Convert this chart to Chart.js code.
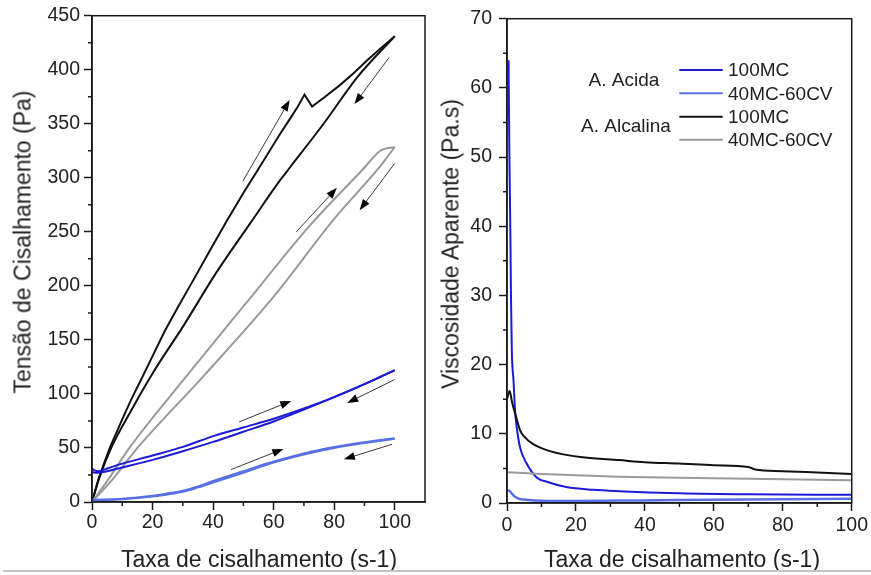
<!DOCTYPE html>
<html>
<head>
<meta charset="utf-8">
<script src="https://cdn.jsdelivr.net/npm/chart.js@4.4.1/dist/chart.umd.min.js"></script>
<style>
  html, body { margin: 0; padding: 0; background: #fff; }
  #wrap { position: relative; width: 871px; height: 575px; overflow: hidden; background: #fff; font-family: 'Liberation Sans', Arial, sans-serif; color: #222; }
  canvas { position: absolute; top: 0; }
  #c1 { left: 0; }
  #c2 { left: 435px; }
  .t { position: absolute; white-space: nowrap; font-size: 23px; line-height: 1; color: #222; }
  .ty { transform: translate(-50%, -50%) rotate(-90deg); }
  .tx { transform: translate(-50%, -50%); }
  #baseline { position: absolute; left: 3px; right: 0; top: 570px; height: 2px; background: #c4c4c4; }
</style>
</head>
<body>
<div id="wrap">
  <canvas id="c1" width="435" height="575"></canvas>
  <canvas id="c2" width="436" height="575"></canvas>
  <div class="t ty" style="left:23px; top:242px;">Tensão de Cisalhamento (Pa)</div>
  <div class="t tx" style="left:259px; top:559px;">Taxa de cisalhamento (s-1)</div>
  <div class="t ty" style="left:451px; top:244px;">Viscosidade Aparente (Pa.s)</div>
  <div class="t tx" style="left:682px; top:559px;">Taxa de cisalhamento (s-1)</div>
  <div id="baseline"></div>
</div>
<script>
// ---------- Left chart: shear stress (Pa) vs shear rate (s-1) ----------
const alk100Up   = [[0,0],[1,10],[2,20],[4,36],[6,51],[8.5,67],[11,83],[13.5,98],[16,112],[20,135],[24,158],[28.5,181],[33,203],[39,233],[44.5,260],[50,286],[54.5,306],[58.9,326],[62,340],[65.5,355],[68,366],[70.2,377],[72.7,366],[77,375],[82,386],[86.5,397],[91,409],[95.5,420],[100,431]];
const alk100Down = [[0,0],[2.5,23],[6.5,51],[13,85],[20,119],[30.2,163],[41,212],[52.3,258],[62.2,298],[65.5,310],[76.5,350],[87.6,393],[100,431]];
const alk4060Up   = [[0,0],[5.4,21],[12.6,51],[30.2,113],[50.6,183],[72,256],[89.2,307],[95.3,325],[100,328.5]];
const alk4060Down = [[0,0],[6.5,20],[15.3,51],[37,117],[60,190],[80,262],[95.3,311],[100,328.5]];
const acid100Up   = [[0,31],[1,29],[2,28.5],[5,31],[10,35.5],[20,43],[30,51],[40,61],[50,69],[60,77],[70,86.5],[80,97],[90,109],[100,122]];
const acid100Down = [[0,28],[1,27],[2,27],[5,28.5],[10,32],[20,39],[30,47],[40,55.6],[50,65],[60,74.5],[70,85.5],[80,97],[90,109],[100,122]];
const acid4060Up   = [[0,1.5],[10,2.5],[20,5],[25,7],[30,9.5],[35,13.5],[40,18],[50,27],[60,36.5],[70,44],[80,50],[90,54.5],[100,58.5]];
const acid4060Down = [[0,2],[10,3],[20,5.8],[25,8],[30,10.5],[35,14.5],[40,19.5],[50,28.5],[60,37.5],[70,45],[80,50.8],[90,55.3],[100,59]];
// direction arrows [xStart, yStart, xEnd, yEnd] (head at end)
const stressArrows = [
  [49.8,296.8,65.3,371.9],[98.2,411.5,86.7,368.2],
  [67.5,250,80.9,290.7],[100,313.3,88.4,270],
  [48.6,74.1,65.8,93.5],[100,113.3,84.3,91.7],
  [45.9,30,63.2,49.1],[99.1,53.4,83.2,39.5]
];
const leftXLabels = [0,20,40,60,80,100];
const leftXMinor = [10,30,50,70,90];
const leftYLabels = [0,50,100,150,200,250,300,350,400,450];
const leftYMinor = [25,75,125,175,225,275,325,375,425];

// ---------- Right chart: apparent viscosity (Pa.s) vs shear rate (s-1) ----------
const acid100Visc  = [[0.45,64],[0.7,50],[1,38],[1.15,30],[1.4,22],[1.9,17.6],[2.4,12.9],[3,10.3],[3.8,8],[5.7,5.7],[8.6,3.7],[12,3],[17.2,2.3],[25,1.9],[32.5,1.7],[50,1.4],[70,1.25],[100,1.2]];
const acid4060Visc = [[0,1.8],[0.5,1.8],[1,1.6],[1.7,1.2],[2.4,0.86],[3.5,0.6],[4.8,0.49],[8,0.35],[12.4,0.29],[20,0.3],[32.5,0.35],[50,0.42],[70,0.52],[100,0.62]];
const alk100Visc   = [[0,15],[0.75,16.2],[1.5,14.5],[2.4,12.9],[3.8,10.5],[5,9.6],[7.6,8.5],[12.4,7.5],[22,6.6],[32.5,6.2],[40,5.9],[50,5.7],[60,5.45],[70,5.2],[72,4.85],[80,4.6],[90,4.4],[100,4.2]];
const alk4060Visc  = [[0,4.45],[10,4.2],[20,4.0],[32.5,3.8],[50,3.65],[70,3.5],[100,3.3]];
const rightXLabels = [0,20,40,60,80,100];
const rightXMinor = [10,30,50,70,90];
const rightYLabels = [0,10,20,30,40,50,60,70];
const rightYMinor = [5,15,25,35,45,55,65];

const legendGroups = ['A. Acida', 'A. Alcalina'];
const legendLabels = ['100MC', '40MC-60CV', '100MC', '40MC-60CV'];

// ---------- styles ----------
const C_BLUE = '#1c1cd8';
const C_LBLUE = '#5870e4';
const C_BLACK = '#111111';
const C_GRAY = '#9a9a9a';
const legendColors = [C_BLUE, C_LBLUE, C_BLACK, C_GRAY];
const FONT = "'Liberation Sans', Arial, sans-serif";
const AXIS = '#1a1a1a';

const pts = a => a.map(p => ({x: p[0], y: p[1]}));
function ds(data, color, w, sharp) {
  const d = { data: pts(data), borderColor: color, backgroundColor: color, borderWidth: w || 2,
           pointRadius: 0, showLine: true, fill: false, tension: 0 };
  if (!sharp) d.cubicInterpolationMode = 'monotone';
  return d;
}

function axisCommon(extra) {
  return Object.assign({
    type: 'linear',
    grid: { display: true, drawOnChartArea: false, drawTicks: true, tickLength: 8, tickColor: AXIS, tickWidth: 1.5 },
    border: { display: true, color: AXIS, width: 1.5 },
  }, extra);
}

const framePlugin = {
  id: 'frame',
  afterDraw(chart, args, opts) {
    const ctx = chart.ctx, a = chart.chartArea;
    const xs = chart.scales.x, ys = chart.scales.y;
    ctx.save();
    // minor ticks
    ctx.strokeStyle = AXIS; ctx.lineWidth = 1.5;
    ctx.beginPath();
    (opts.xMinor || []).forEach(v => { const px = xs.getPixelForValue(v); ctx.moveTo(px, a.bottom); ctx.lineTo(px, a.bottom + 4); });
    (opts.yMinor || []).forEach(v => { const py = ys.getPixelForValue(v); ctx.moveTo(a.left, py); ctx.lineTo(a.left - 4, py); });
    ctx.stroke();
    // frame
    ctx.lineWidth = 1.5;
    ctx.strokeRect(a.left, a.top, a.right - a.left, a.bottom - a.top);
    // arrows
    (opts.arrows || []).forEach(ar => {
      const x1 = xs.getPixelForValue(ar[0]), y1 = ys.getPixelForValue(ar[1]);
      const x2 = xs.getPixelForValue(ar[2]), y2 = ys.getPixelForValue(ar[3]);
      const ang = Math.atan2(y2 - y1, x2 - x1);
      const L = 11, W = 4;
      ctx.strokeStyle = '#3a3a3a'; ctx.lineWidth = 1;
      ctx.beginPath(); ctx.moveTo(x1, y1); ctx.lineTo(x2 - Math.cos(ang) * L * 0.6, y2 - Math.sin(ang) * L * 0.6); ctx.stroke();
      ctx.fillStyle = '#000';
      ctx.beginPath();
      ctx.moveTo(x2, y2);
      ctx.lineTo(x2 - Math.cos(ang) * L - Math.sin(ang) * W, y2 - Math.sin(ang) * L + Math.cos(ang) * W);
      ctx.lineTo(x2 - Math.cos(ang) * L + Math.sin(ang) * W, y2 - Math.sin(ang) * L - Math.cos(ang) * W);
      ctx.closePath(); ctx.fill();
    });
    // legend
    if (opts.legend) {
      ctx.font = '19px ' + FONT;
      ctx.textBaseline = 'middle';
      const rows = [70, 93.3, 116.7, 139.8];
      legendLabels.forEach((lab, i) => {
        ctx.strokeStyle = legendColors[i]; ctx.lineWidth = 2;
        ctx.beginPath(); ctx.moveTo(244.3, rows[i]); ctx.lineTo(287.7, rows[i]); ctx.stroke();
        ctx.fillStyle = '#222'; ctx.textAlign = 'left';
        ctx.fillText(lab, 293, rows[i] + 1);
      });
      ctx.textAlign = 'center';
      ctx.fillText(legendGroups[0], 189, 80.5);
      ctx.fillText(legendGroups[1], 191, 127);
    }
    ctx.restore();
  }
};

function keepOnly(list) {
  return scale => { scale.ticks = list.map(v => ({ value: v })); };
}

new Chart(document.getElementById('c1'), {
  type: 'scatter',
  data: { datasets: [
    ds(acid4060Up, C_LBLUE, 2), ds(acid4060Down, C_LBLUE, 2),
    ds(acid100Up, C_BLUE, 2), ds(acid100Down, C_BLUE, 2),
    ds(alk4060Up, C_GRAY, 2), ds(alk4060Down, C_GRAY, 2),
    ds(alk100Up, C_BLACK, 2, true), ds(alk100Down, C_BLACK, 2)
  ]},
  options: {
    responsive: false, animation: false, maintainAspectRatio: false,
    layout: { padding: { top: 15, right: 10, left: 0, bottom: 0 } },
    plugins: { legend: { display: false }, tooltip: { enabled: false },
      frame: { xMinor: leftXMinor, yMinor: leftYMinor, arrows: stressArrows } },
    scales: {
      x: axisCommon({ min: 0, max: 110, afterBuildTicks: keepOnly(leftXLabels),
        afterFit: s => { s.height = 73; },
        ticks: { color: '#222', font: { family: FONT, size: 19.5 }, padding: 1, maxRotation: 0 } }),
      y: axisCommon({ min: 0, max: 450, afterBuildTicks: keepOnly(leftYLabels),
        afterFit: s => { s.width = 92; },
        ticks: { color: '#222', font: { family: FONT, size: 19.5 }, padding: 4 } })
    }
  },
  plugins: [framePlugin]
});

new Chart(document.getElementById('c2'), {
  type: 'scatter',
  data: { datasets: [
    ds(alk4060Visc, C_GRAY, 2), ds(alk100Visc, C_BLACK, 2),
    ds(acid4060Visc, C_LBLUE, 2.5), ds(acid100Visc, C_BLUE, 2)
  ]},
  options: {
    responsive: false, animation: false, maintainAspectRatio: false,
    layout: { padding: { top: 16, right: 15, left: 0, bottom: 0 } },
    plugins: { legend: { display: false }, tooltip: { enabled: false },
      frame: { xMinor: rightXMinor, yMinor: rightYMinor, legend: true } },
    scales: {
      x: axisCommon({ min: 0, max: 100, afterBuildTicks: keepOnly(rightXLabels),
        afterFit: s => { s.height = 72; },
        ticks: { color: '#222', font: { family: FONT, size: 19.5 }, padding: 3, maxRotation: 0 } }),
      y: axisCommon({ min: 0, max: 70, afterBuildTicks: keepOnly(rightYLabels),
        afterFit: s => { s.width = 72; },
        ticks: { color: '#222', font: { family: FONT, size: 19.5 }, padding: 7 } })
    }
  },
  plugins: [framePlugin]
});
</script>
</body>
</html>
